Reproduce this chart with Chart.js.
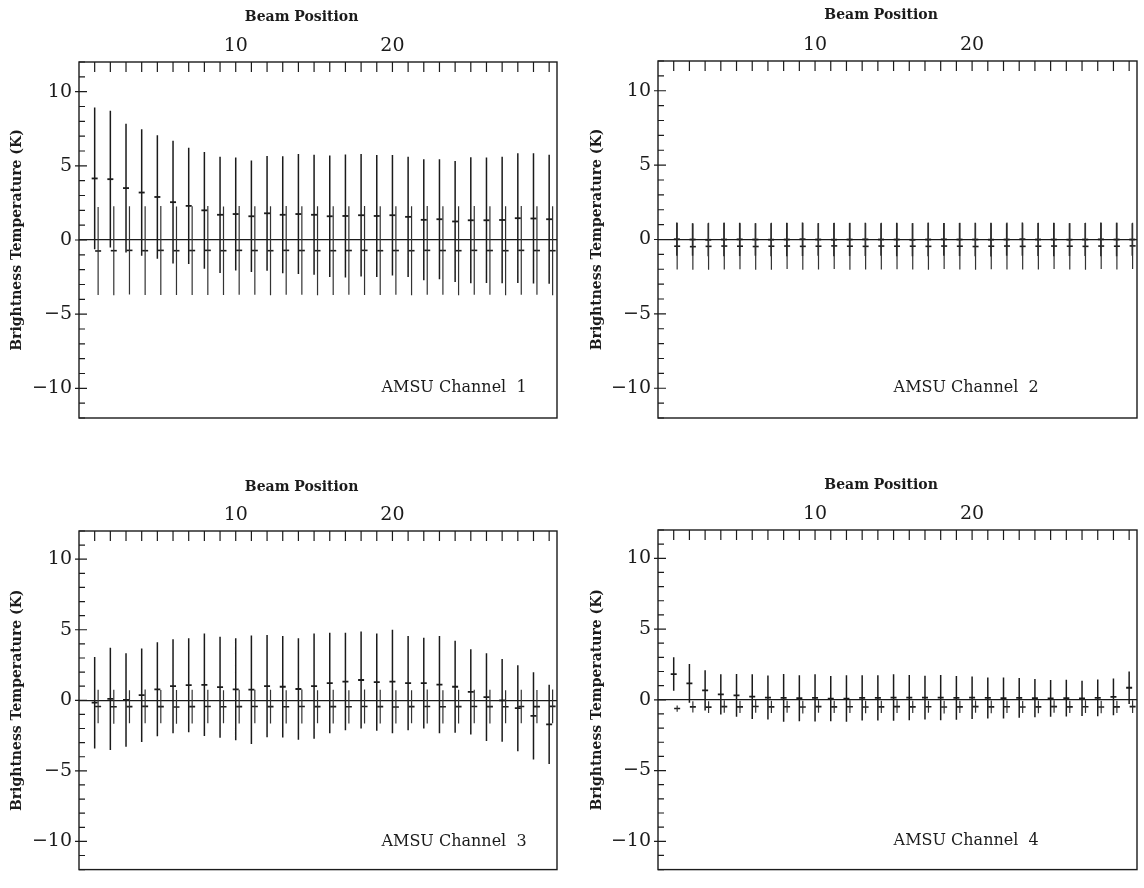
<!DOCTYPE html>
<html>
<head>
<meta charset="utf-8">
<script src="https://cdn.jsdelivr.net/npm/chart.js@4.4.0/dist/chart.umd.min.js"></script>
<style>
  html, body { margin: 0; padding: 0; background: #fff; }
  #wrap { position: relative; width: 1144px; height: 888px; overflow: hidden; }
  canvas { position: absolute; }
</style>
</head>
<body>
<div id="wrap">
  <canvas id="ch1" width="572" height="444" style="left:0;top:0"></canvas>
  <canvas id="ch2" width="572" height="444" style="left:572px;top:0"></canvas>
  <canvas id="ch3" width="572" height="444" style="left:0;top:444px"></canvas>
  <canvas id="ch4" width="572" height="444" style="left:572px;top:444px"></canvas>
</div>
<script>
'use strict';

const BEAM_POSITIONS = [1,2,3,4,5,6,7,8,9,10,11,12,13,14,15,16,17,18,19,20,21,22,23,24,25,26,27,28,29,30];
const X_LABELS = [10, 20];
const Y_LABELS = [-10, -5, 0, 5, 10];

// channel 1
const CH1_A_MEAN = [4.15,4.10,3.50,3.20,2.90,2.55,2.30,2.00,1.70,1.75,1.60,1.80,1.70,1.75,1.70,1.60,1.62,1.67,1.62,1.67,1.56,1.36,1.40,1.25,1.33,1.33,1.35,1.47,1.45,1.40];
const CH1_A_SD   = [4.78,4.61,4.34,4.27,4.17,4.14,3.92,3.93,3.92,3.81,3.76,3.87,3.94,4.05,4.05,4.09,4.14,4.13,4.11,4.06,4.06,4.08,4.04,4.08,4.25,4.23,4.27,4.37,4.39,4.35];
const CH1_B_MEAN = [-0.74,-0.72,-0.70,-0.72,-0.70,-0.72,-0.71,-0.70,-0.72,-0.70,-0.71,-0.72,-0.70,-0.71,-0.72,-0.72,-0.71,-0.70,-0.72,-0.71,-0.72,-0.70,-0.71,-0.72,-0.70,-0.71,-0.72,-0.70,-0.71,-0.72];
const CH1_B_SD   = [2.97,3.00,2.98,2.99,3.00,2.98,2.99,3.00,2.98,2.99,2.98,3.00,2.99,2.98,3.00,2.99,2.98,3.00,2.99,2.98,3.00,2.99,2.98,3.00,2.99,2.98,3.00,2.99,2.98,3.00];

// channel 2
const CH2_A_MEAN = [0.02,0.00,-0.02,0.00,0.01,0.00,-0.01,0.00,0.02,0.00,-0.01,0.00,0.01,0.00,0.00,-0.02,0.00,0.01,0.00,0.00,-0.01,0.00,0.02,0.00,0.00,-0.01,0.00,0.01,0.00,0.00];
const CH2_A_SD   = [1.12,1.10,1.11,1.13,1.12,1.10,1.11,1.12,1.13,1.10,1.12,1.11,1.12,1.10,1.13,1.11,1.12,1.10,1.11,1.12,1.13,1.10,1.12,1.11,1.12,1.10,1.11,1.13,1.12,1.10];
const CH2_B_MEAN = [-0.45,-0.48,-0.46,-0.44,-0.45,-0.47,-0.45,-0.44,-0.46,-0.45,-0.43,-0.45,-0.46,-0.44,-0.45,-0.45,-0.46,-0.44,-0.45,-0.47,-0.45,-0.44,-0.46,-0.45,-0.44,-0.45,-0.46,-0.44,-0.45,-0.43];
const CH2_B_SD   = [1.56,1.55,1.58,1.57,1.55,1.56,1.58,1.55,1.57,1.56,1.55,1.58,1.56,1.57,1.55,1.56,1.58,1.55,1.57,1.56,1.55,1.58,1.56,1.57,1.55,1.56,1.58,1.55,1.57,1.56];

// channel 3
const CH3_A_MEAN = [-0.17,0.10,0.02,0.36,0.78,1.00,1.07,1.10,0.93,0.78,0.75,1.00,0.96,0.80,1.00,1.22,1.33,1.44,1.29,1.33,1.22,1.22,1.11,0.96,0.60,0.22,0.00,-0.56,-1.11,-1.70];
const CH3_A_SD   = [3.24,3.63,3.31,3.31,3.33,3.33,3.33,3.63,3.58,3.62,3.85,3.62,3.60,3.60,3.73,3.56,3.45,3.43,3.44,3.67,3.34,3.22,3.45,3.26,3.02,3.11,2.93,3.05,3.09,2.81];
const CH3_B_MEAN = [-0.44,-0.46,-0.45,-0.43,-0.45,-0.47,-0.45,-0.44,-0.46,-0.45,-0.44,-0.45,-0.46,-0.44,-0.45,-0.45,-0.46,-0.44,-0.45,-0.47,-0.45,-0.44,-0.46,-0.45,-0.44,-0.45,-0.46,-0.44,-0.45,-0.43];
const CH3_B_SD   = [1.18,1.20,1.17,1.19,1.18,1.20,1.19,1.18,1.17,1.20,1.18,1.19,1.18,1.20,1.17,1.19,1.18,1.20,1.19,1.18,1.17,1.20,1.18,1.19,1.18,1.20,1.17,1.19,1.18,1.20];

// channel 4
const CH4_A_MEAN = [1.82,1.16,0.67,0.38,0.31,0.22,0.16,0.13,0.11,0.13,0.09,0.09,0.13,0.13,0.16,0.15,0.15,0.16,0.14,0.15,0.13,0.12,0.14,0.12,0.10,0.12,0.10,0.13,0.20,0.85];
const CH4_A_SD   = [1.18,1.37,1.42,1.42,1.51,1.58,1.55,1.69,1.62,1.67,1.60,1.64,1.60,1.60,1.64,1.60,1.55,1.60,1.55,1.50,1.45,1.45,1.40,1.35,1.30,1.30,1.25,1.30,1.30,1.15];
const CH4_B_MEAN = [-0.62,-0.50,-0.52,-0.48,-0.50,-0.47,-0.50,-0.49,-0.51,-0.48,-0.50,-0.49,-0.51,-0.50,-0.48,-0.50,-0.49,-0.51,-0.50,-0.48,-0.50,-0.49,-0.51,-0.50,-0.48,-0.50,-0.49,-0.51,-0.50,-0.48];
const CH4_B_SD   = [0.22,0.40,0.42,0.44,0.43,0.45,0.44,0.43,0.45,0.44,0.43,0.45,0.44,0.43,0.45,0.44,0.43,0.45,0.44,0.43,0.45,0.44,0.43,0.45,0.44,0.43,0.45,0.44,0.43,0.45];

const SERIF = '"DejaVu Serif", "Liberation Serif", serif';
const INK = '#1b1b1b';

const PANELS = [
  { id: 'ch1', channel: '1', a: [CH1_A_MEAN, CH1_A_SD], b: [CH1_B_MEAN, CH1_B_SD], shiftA: 0, shiftB: 0.22,
    area: { left: 79, top: 62, right: 557, bottom: 418 }, titleTop: 8.6, yTitlePad: 8.6, labelX: 19.3 },
  { id: 'ch2', channel: '2', a: [CH2_A_MEAN, CH2_A_SD], b: [CH2_B_MEAN, CH2_B_SD], shiftA: 0.2, shiftB: 0.22,
    area: { left: 86, top: 61, right: 565, bottom: 418 }, titleTop: 6.6, yTitlePad: 16.6, labelX: 15.0 },
  { id: 'ch3', channel: '3', a: [CH3_A_MEAN, CH3_A_SD], b: [CH3_B_MEAN, CH3_B_SD], shiftA: 0, shiftB: 0.22,
    area: { left: 79, top: 87, right: 557, bottom: 442 }, titleTop: 34.6, yTitlePad: 8.6, labelX: 19.3 },
  { id: 'ch4', channel: '4', a: [CH4_A_MEAN, CH4_A_SD], b: [CH4_B_MEAN, CH4_B_SD], shiftA: 0, shiftB: 0.22,
    area: { left: 86, top: 86, right: 565, bottom: 442 }, titleTop: 32.6, yTitlePad: 16.6, labelX: 15.0 },
];

function barSegments(means, sds, shift) {
  const pts = [];
  BEAM_POSITIONS.forEach((p, i) => {
    pts.push({ x: p + shift, y: means[i] - sds[i] });
    pts.push({ x: p + shift, y: means[i] + sds[i] });
    pts.push({ x: p + shift, y: null });
  });
  return pts;
}

function meanPoints(means, shift) {
  return BEAM_POSITIONS.map((p, i) => ({ x: p + shift, y: means[i] }));
}

const framePlugin = {
  id: 'frame',
  afterDraw(chart) {
    const { ctx, chartArea: a, scales: { x, y } } = chart;
    ctx.save();
    ctx.strokeStyle = INK;
    ctx.lineWidth = 1.4;
    ctx.strokeRect(a.left, a.top, a.right - a.left, a.bottom - a.top);
    ctx.lineWidth = 1.2;
    ctx.beginPath();
    for (let v = -12; v <= 12; v++) {
      const py = y.getPixelForValue(v);
      if (v % 5 === 0) { ctx.moveTo(a.left - 4, py); ctx.lineTo(a.left + 8, py); }
      else { ctx.moveTo(a.left, py); ctx.lineTo(a.left + 6, py); }
    }
    BEAM_POSITIONS.forEach(p => {
      const px = x.getPixelForValue(p);
      ctx.moveTo(px, a.top);
      ctx.lineTo(px, a.top + 10);
    });
    ctx.stroke();
    const opts = chart.options.plugins.frame;
    ctx.fillStyle = INK;
    ctx.font = '16px ' + SERIF;
    ctx.textBaseline = 'middle';
    ctx.textAlign = 'left';
    ctx.fillText('AMSU Channel  ' + opts.channel, x.getPixelForValue(opts.labelX), y.getPixelForValue(-10));
    ctx.restore();
  }
};

function makeChart(panel) {
  const el = document.getElementById(panel.id);
  const W = el.width, H = el.height;
  const [aMean, aSd] = panel.a;
  const [bMean, bSd] = panel.b;
  return new Chart(el, {
    type: 'scatter',
    data: {
      datasets: [
        { data: barSegments(bMean, bSd, panel.shiftB), showLine: true, spanGaps: false,
          borderColor: '#333', borderWidth: 1.2, pointRadius: 0 },
        { data: meanPoints(bMean, panel.shiftB), pointStyle: 'line', pointRadius: 3,
          borderColor: INK, borderWidth: 1.6 },
        { data: barSegments(aMean, aSd, panel.shiftA), showLine: true, spanGaps: false,
          borderColor: INK, borderWidth: 1.5, pointRadius: 0 },
        { data: meanPoints(aMean, panel.shiftA), pointStyle: 'line', pointRadius: 3,
          borderColor: INK, borderWidth: 1.8 },
      ],
    },
    options: {
      responsive: false,
      animation: false,
      devicePixelRatio: 1,
      layout: { padding: { left: 0, top: 0, right: W - panel.area.right, bottom: H - panel.area.bottom } },
      plugins: {
        legend: { display: false },
        tooltip: { enabled: false },
        frame: { channel: panel.channel, labelX: panel.labelX },
      },
      scales: {
        x: {
          type: 'linear',
          position: 'top',
          min: 0,
          max: 30.5,
          afterFit: s => { s.height = panel.area.top; },
          grid: { display: false, drawTicks: false },
          border: { display: false },
          ticks: {
            stepSize: 1,
            autoSkip: false,
            maxRotation: 0,
            padding: 5,
            color: INK,
            font: { family: SERIF, size: 19 },
            callback: v => (X_LABELS.includes(v) ? String(v) : ''),
          },
          title: {
            display: true,
            // trailing em spaces nudge the centred title left, as in the original
            text: 'Beam Position\u2003\u2003 ',
            color: INK,
            font: { family: SERIF, size: 14, weight: 'bold' },
            padding: { top: panel.titleTop, bottom: 0 },
          },
        },
        y: {
          min: -12,
          max: 12,
          afterFit: s => { s.width = panel.area.left; },
          grid: {
            drawTicks: false,
            color: c => (c.tick && c.tick.value === 0 ? INK : 'rgba(0,0,0,0)'),
            lineWidth: 1.3,
          },
          border: { display: false },
          ticks: {
            stepSize: 1,
            autoSkip: false,
            padding: 7,
            color: INK,
            font: { family: SERIF, size: 19 },
            callback: v => (Y_LABELS.includes(v) ? (v < 0 ? '\u2212' + Math.abs(v) : String(v)) : ''),
          },
          title: {
            display: true,
            text: 'Brightness Temperature (K)',
            color: INK,
            font: { family: SERIF, size: 14, weight: 'bold' },
            padding: { top: panel.yTitlePad, bottom: 0 },
          },
        },
      },
    },
    plugins: [framePlugin],
  });
}

PANELS.forEach(makeChart);
</script>
</body>
</html>
